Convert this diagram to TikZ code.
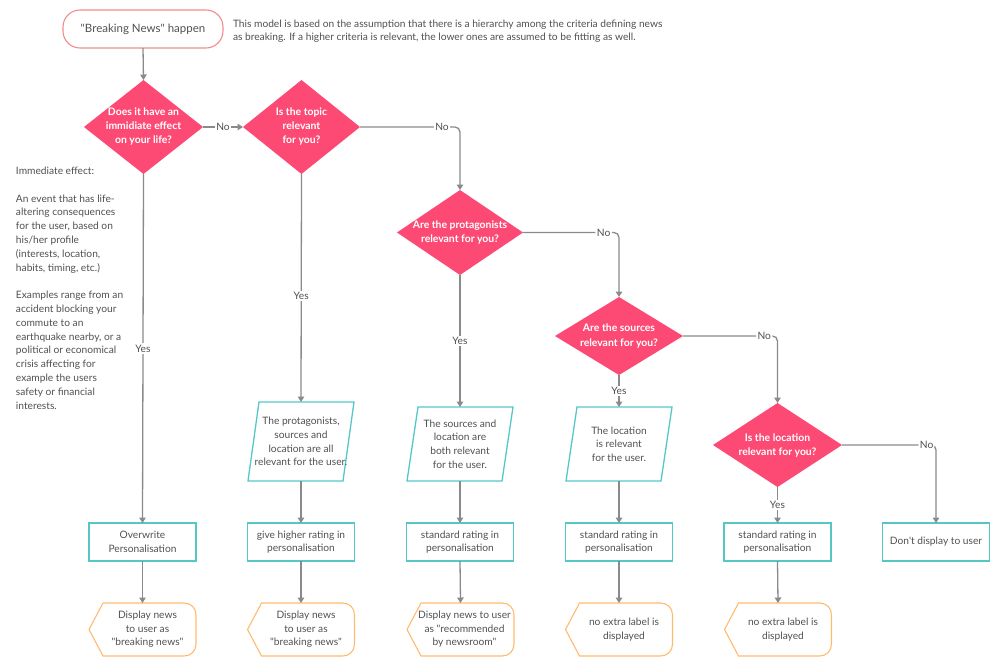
\documentclass[tikz,border=0pt]{standalone}
\usepackage{fontspec}
\setmainfont{Lato}[Ligatures=TeXOff]
\usetikzlibrary{shapes.geometric,arrows.meta,calc}
\definecolor{pinkd}{HTML}{FC4A74}
\definecolor{tealb}{HTML}{55C7C7}
\definecolor{orangeb}{HTML}{FFBA6E}
\definecolor{startb}{HTML}{F28C8C}
\definecolor{linegray}{HTML}{8A8A8A}
\definecolor{txtgray}{HTML}{505050}
\newcommand\fsz{\fontsize{10.2}{13.6}\selectfont}
\newcommand\dispout[1]{%
  \draw[displine] (#1.west) -- ($(#1.north west)+(14,0)$)
    -- ($(#1.north east)+(-12,0)$)
    .. controls ($(#1.north east)+(-5,0)$) and ($(#1.north east)+(0,5)$) .. ($(#1.north east)+(0,12)$)
    -- ($(#1.south east)+(0,-12)$)
    .. controls ($(#1.south east)+(0,-5)$) and ($(#1.south east)+(-5,0)$) .. ($(#1.south east)+(-12,0)$)
    -- ($(#1.south west)+(14,0)$) -- cycle;}
\newcommand\paraout[1]{%
  \draw[paraline] (#1.south west) -- ($(#1.north west)+(11,0)$) -- (#1.north east)
    -- ($(#1.south east)+(-11,0)$) -- cycle;}
\begin{document}
\begin{tikzpicture}[x=1pt,y=-1pt,
  every node/.style={font=\fsz, text=txtgray, outer sep=0pt},
  dia/.style={diamond, fill=pinkd, draw=none, inner sep=0pt},
  diatxt/.style={align=center, text=white, font=\fontsize{10.4}{14}\selectfont\bfseries, inner sep=0pt},
  para/.style={rectangle, draw=none, minimum width=106pt, inner sep=0pt},
  paraline/.style={draw=tealb, line width=1.3pt, line join=miter},
  paratxt/.style={align=center, inner sep=0pt},
  boxn/.style={rectangle, draw=tealb, line width=1.3pt, minimum width=107pt, minimum height=38pt, align=center, inner sep=1pt},
  dispn/.style={rectangle, draw=none, minimum width=107pt, minimum height=53pt, inner sep=0pt},
  displine/.style={draw=orangeb, line width=1.1pt},
  disptxt/.style={align=center, inner sep=0pt},
  startbox/.style={rectangle, rounded corners=17pt, draw=startb, line width=1.1pt, minimum width=160pt, minimum height=38pt, font=\fontsize{11.5}{14}\selectfont},
  conn/.style={draw=linegray, line width=1.3pt, -{Triangle[width=6.5pt,length=5.5pt]}},
  lbl/.style={fill=white, inner sep=1.5pt, text=txtgray}
]
\useasboundingbox (0,0) rectangle (1000,667);

% start and note
\node[startbox] (start) at (143,29) {"Breaking News" happen};
\node[anchor=west, align=left, inner sep=0pt] (note) at (233,31)
  {This model is based on the assumption that there is a hierarchy among the criteria defining news\\
   as breaking. If a higher criteria is relevant, the lower ones are assumed to be fitting as well.};

% side text
\node[anchor=north west, align=left, inner sep=0pt, font=\fontsize{10.2}{13.8}\selectfont] (side) at (16,167)
  {Immediate effect:\\[13.8pt]
   An event that has life-\\altering consequences\\for the user, based on\\his/her profile\\(interests, location,\\habits, timing, etc.)\\[13.8pt]
   Examples range from an\\accident blocking your\\commute to an\\earthquake nearby, or a\\political or economical\\crisis affecting for\\example the users\\safety or financial\\interests.};

% diamonds
\node[dia, minimum width=119pt, minimum height=94pt] (d1) at (143.5,127) {};
\node[diatxt] (t1) at (d1) {Does it have an\\immidiate effect\\on your life?};
\node[dia, minimum width=117pt, minimum height=94pt] (d2) at (301.5,127) {};
\node[diatxt] (t2) at (d2) {Is the topic\\relevant\\for you?};
\node[dia, minimum width=126pt, minimum height=85pt] (d3) at (460,232.5) {};
\node[diatxt] (t3) at (d3) {Are the protagonists\\relevant for you?};
\node[dia, minimum width=128pt, minimum height=78pt] (d4) at (619,336) {};
\node[diatxt] (t4) at (d4) {Are the sources\\relevant for you?};
\node[dia, minimum width=129pt, minimum height=84pt] (d5) at (777.5,445) {};
\node[diatxt] (t5) at (d5) {Is the location\\relevant for you?};

% parallelograms
\node[para, minimum height=79pt] (p2) at (301,441.5) {};
\node[para, minimum height=74pt] (p3) at (460,444) {};
\node[para, minimum height=74pt] (p4) at (619,444) {};
\paraout{p2}\paraout{p3}\paraout{p4}
\node[paratxt] (pt2) at (p2) {The protagonists,\\sources and\\location are all\\relevant for the user.};
\node[paratxt] (pt3) at (p3) {The sources and\\location are\\both relevant\\for the user.};
\node[paratxt] (pt4) at (p4) {The location\\is relevant\\for the user.};

% boxes
\node[boxn] (b1) at (142.5,542) {Overwrite\\Personalisation};
\node[boxn] (b2) at (301,542) {give higher rating in\\personalisation};
\node[boxn] (b3) at (460,542) {standard rating in\\personalisation};
\node[boxn] (b4) at (619,542) {standard rating in\\personalisation};
\node[boxn] (b5) at (777.5,542) {standard rating in\\personalisation};
\node[boxn] (b6) at (936,542) {Don't display to user};

% display shapes
\node[dispn] (o1) at (142.5,629.5) {};
\node[dispn] (o2) at (301,629.5) {};
\node[dispn] (o3) at (460.5,629.5) {};
\node[dispn] (o4) at (619,629.5) {};
\node[dispn] (o5) at (778,629.5) {};
\dispout{o1}\dispout{o2}\dispout{o3}\dispout{o4}\dispout{o5}
\node[disptxt] (ot1) at ($(o1.center)+(5,0)$) {Display news\\to user as\\"breaking news"};
\node[disptxt] (ot2) at ($(o2.center)+(5,0)$) {Display news\\to user as\\"breaking news"};
\node[disptxt] (ot3) at ($(o3.center)+(4,0)$) {Display news to user\\as "recommended\\by newsroom"};
\node[disptxt] (ot4) at ($(o4.center)+(5,0)$) {no extra label is\\displayed};
\node[disptxt] (ot5) at ($(o5.center)+(5,0)$) {no extra label is\\displayed};

% connectors
\draw[conn] (start.south) -- (d1.north);
\draw[conn] (d1.east) -- node[lbl]{No} (d2.west);
\draw[conn] (d1.south) -- node[lbl]{Yes} (b1.north);
\draw[conn] (d2.south) -- node[lbl,pos=0.535]{Yes} (p2.north);
\draw[conn,rounded corners=5pt] (d2.east) -| node[lbl,pos=0.41]{No} (d3.north);
\draw[conn] (d3.south) -- node[lbl]{Yes} (p3.north);
\draw[conn,rounded corners=5pt] (d3.east) -| node[lbl,pos=0.42]{No} (d4.north);
\draw[conn] (d4.south) -- node[lbl]{Yes} (p4.north);
\draw[conn,rounded corners=5pt] (d4.east) -| node[lbl,pos=0.43]{No} (d5.north);
\draw[conn] (d5.south) -- node[lbl]{Yes} (b5.north);
\draw[conn,rounded corners=5pt] (d5.east) -| node[lbl,pos=0.45]{No} (b6.north);
\draw[conn] (p2.south) -- (b2.north);
\draw[conn] (p3.south) -- (b3.north);
\draw[conn] (p4.south) -- (b4.north);
\draw[conn] (b1.south) -- (o1.north);
\draw[conn] (b2.south) -- (o2.north);
\draw[conn] (b3.south) -- (o3.north);
\draw[conn] (b4.south) -- (o4.north);
\draw[conn] (b5.south) -- (o5.north);
\end{tikzpicture}
\end{document}
